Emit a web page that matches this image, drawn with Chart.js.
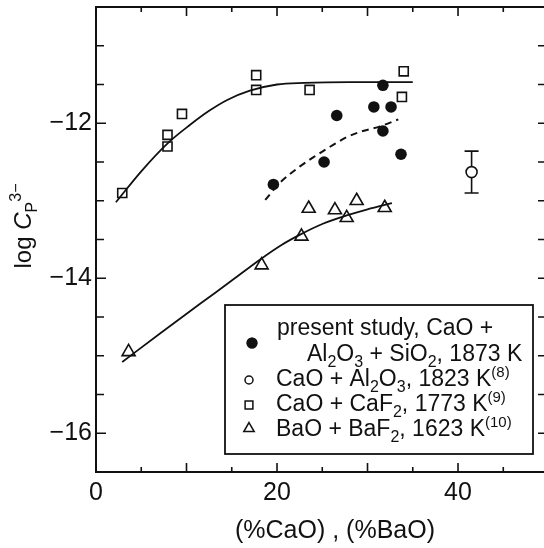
<!DOCTYPE html>
<html><head><meta charset="utf-8">
<script src="https://cdn.jsdelivr.net/npm/chart.js@4"></script>
<style>html,body{margin:0;padding:0;background:#fff;overflow:hidden;width:544px;height:548px}canvas{display:block}</style>
</head><body><canvas id="c" width="544" height="548" style="width:544px;height:548px"></canvas>
<script>
// ---- data ----
const xFilled = [19.6, 25.2, 26.6, 30.7, 32.6, 31.7, 31.7, 33.7];
const yFilled = [-12.79, -12.50, -11.90, -11.79, -11.79, -11.51, -12.10, -12.40];
const xOpen = [41.5];
const yOpen = [-12.63];
const yOpenErrLow = [-12.90];
const yOpenErrHigh = [-12.36];
const xSquare = [2.9, 7.9, 7.9, 9.5, 17.7, 17.7, 23.6, 34.0, 33.8];
const ySquare = [-12.90, -12.30, -12.15, -11.88, -11.38, -11.57, -11.57, -11.33, -11.66];
const xTri = [3.6, 18.3, 22.7, 23.5, 26.4, 27.7, 28.8, 31.9];
const yTri = [-14.95, -13.83, -13.46, -13.10, -13.12, -13.22, -13.00, -13.09];
const xFitSquare = [2.2, 5, 8, 10.4, 12.5, 14.5, 17, 20, 23, 28, 35];
const yFitSquare = [-13.02, -12.62, -12.25, -12.02, -11.84, -11.70, -11.58, -11.50, -11.48, -11.47, -11.47];
const xFitFilled = [18.7, 20.3, 22.5, 24, 26.2, 27.7, 29.2, 31.4, 33.4];
const yFitFilled = [-12.99, -12.77, -12.56, -12.44, -12.28, -12.18, -12.11, -12.04, -11.95];
const xFitTri = [2.9, 7, 11.5, 15, 18.1, 20.5, 22.5, 25, 27.7, 30, 32.7];
const yFitTri = [-15.08, -14.72, -14.33, -14.03, -13.76, -13.57, -13.44, -13.30, -13.19, -13.11, -13.03];
const xTickLabels = [0, 20, 40];
const yTickLabels = [-16, -14, -12];
const xMajorTicks = [0, 10, 20, 30, 40];
const xMinorTicks = [5, 15, 25, 35, 45];
const yMinorTicks = [-16, -15.5, -15, -14.5, -14, -13.5, -13, -12.5, -12, -11.5, -11];
const legendLines = [
  [['present study, CaO +','n']],
  [['Al','n'],['2','sub'],['O','n'],['3','sub'],[' + SiO','n'],['2','sub'],[', 1873 K','n']],
  [['CaO + Al','n'],['2','sub'],['O','n'],['3','sub'],[', 1823 K','n'],['(8)','sup']],
  [['CaO + CaF','n'],['2','sub'],[', 1773 K','n'],['(9)','sup']],
  [['BaO + BaF','n'],['2','sub'],[', 1623 K','n'],['(10)','sup']]
];
const xTitle = '(%CaO) , (%BaO)';
const yTitle = [['log ','n'],['C','i'],['P','sub'],['3\u2212','sup']];

const ink = '#111';
const FONT = '"Liberation Sans", Arial, Helvetica, sans-serif';
const pts = (xs, ys) => xs.map((x, i) => ({x, y: ys[i]}));

function segFont(kind, fs) {
  if (kind === 'sub') return {f: `${Math.round(fs*0.68)}px ${FONT}`, dy: fs*0.25};
  if (kind === 'sup') return {f: `${Math.round(fs*0.66)}px ${FONT}`, dy: -fs*0.42};
  if (kind === 'i') return {f: `italic ${fs}px ${FONT}`, dy: 0};
  return {f: `${fs}px ${FONT}`, dy: 0};
}
function richWidth(ctx, segs, fs) {
  let w = 0;
  for (const [t, k] of segs) { ctx.font = segFont(k, fs).f; w += ctx.measureText(t).width; }
  return w;
}
function richDraw(ctx, x, y, segs, fs) {
  ctx.textBaseline = 'alphabetic'; ctx.textAlign = 'left';
  for (const [t, k] of segs) {
    const s = segFont(k, fs); ctx.font = s.f;
    ctx.fillText(t, x, y + s.dy);
    x += ctx.measureText(t).width;
  }
}
function noPad(s) { s.paddingTop = 0; s.paddingBottom = 0; s.paddingLeft = 0; s.paddingRight = 0; }

const decor = {
  id: 'decor',
  afterDatasetsDraw(chart) {
    const ctx = chart.ctx, xs = chart.scales.x, ys = chart.scales.y;
    const {left, right, top, bottom} = chart.chartArea;
    ctx.save();
    ctx.strokeStyle = ink; ctx.fillStyle = ink; ctx.lineWidth = 1.6;
    // error bar
    xOpen.forEach((v, i) => {
      const px = xs.getPixelForValue(v);
      const p1 = ys.getPixelForValue(yOpenErrHigh[i]), p2 = ys.getPixelForValue(yOpenErrLow[i]);
      const pc = ys.getPixelForValue(yOpen[i]);
      ctx.beginPath();
      ctx.moveTo(px, p1); ctx.lineTo(px, pc - 5);
      ctx.moveTo(px, pc + 5); ctx.lineTo(px, p2);
      ctx.moveTo(px - 7, p1); ctx.lineTo(px + 7, p1);
      ctx.moveTo(px - 7, p2); ctx.lineTo(px + 7, p2);
      ctx.stroke();
    });
    // frame (right edge lies at the window border)
    ctx.lineWidth = 2;
    ctx.beginPath();
    ctx.moveTo(right + 2, top); ctx.lineTo(left, top); ctx.lineTo(left, bottom); ctx.lineTo(right + 2, bottom);
    ctx.stroke();
    ctx.lineWidth = 1.6;
    ctx.beginPath();
    xMajorTicks.concat(xMinorTicks).forEach(v => {
      const L = xMajorTicks.includes(v) ? 9 : 5;
      const px = xs.getPixelForValue(v);
      ctx.moveTo(px, bottom); ctx.lineTo(px, bottom - L);
      ctx.moveTo(px, top); ctx.lineTo(px, top + L);
    });
    yMinorTicks.forEach(v => {
      const L = yTickLabels.includes(v) ? 10 : 8;
      const py = ys.getPixelForValue(v);
      ctx.moveTo(left, py); ctx.lineTo(left + L, py);
      ctx.moveTo(right, py); ctx.lineTo(right - 6, py);
    });
    ctx.stroke();
    // legend
    const bx = 225, by = 305, bw = 308, bh = 149;
    ctx.fillStyle = '#fff'; ctx.fillRect(bx, by, bw, bh);
    ctx.lineWidth = 1.8; ctx.strokeRect(bx, by, bw, bh);
    ctx.fillStyle = ink;
    const fs = 23;
    const lineY = [327, 353, 378, 403, 428];
    const lineX = [277, 307, 276, 276, 276];
    legendLines.forEach((segs, i) => richDraw(ctx, lineX[i], lineY[i] + fs*0.36, segs, fs));
    ctx.lineWidth = 1.5;
    Chart.helpers.drawPoint(ctx, {pointStyle: 'circle', radius: 5.5, borderWidth: 0}, 252, 343); ctx.fill();
    ctx.fillStyle = '#fff';
    Chart.helpers.drawPoint(ctx, {pointStyle: 'circle', radius: 4, borderWidth: 1.5}, 249, 380);
    Chart.helpers.drawPoint(ctx, {pointStyle: 'rect', radius: 5.5, borderWidth: 1.5}, 249, 405);
    Chart.helpers.drawPoint(ctx, {pointStyle: 'triangle', radius: 6, borderWidth: 1.5}, 249, 428.5);
    ctx.fillStyle = ink;
    // x title
    ctx.font = `25px ${FONT}`; ctx.textAlign = 'center'; ctx.textBaseline = 'middle';
    ctx.fillText(xTitle, 335, 531);
    // y title
    ctx.translate(31, 226); ctx.rotate(-Math.PI / 2);
    const w = richWidth(ctx, yTitle, 24);
    richDraw(ctx, -w / 2, 0, yTitle, 24);
    ctx.restore();
  }
};

new Chart(document.getElementById('c'), {
  type: 'scatter',
  data: {
    datasets: [
      {data: pts(xFitSquare, yFitSquare), showLine: true, pointRadius: 0, borderColor: ink, borderWidth: 1.8, cubicInterpolationMode: 'monotone', order: 5},
      {data: pts(xFitFilled, yFitFilled), showLine: true, pointRadius: 0, borderColor: ink, borderWidth: 2, borderDash: [7, 5], cubicInterpolationMode: 'monotone', order: 5},
      {data: pts(xFitTri, yFitTri), showLine: true, pointRadius: 0, borderColor: ink, borderWidth: 1.8, cubicInterpolationMode: 'monotone', order: 5},
      {data: pts(xFilled, yFilled), pointStyle: 'circle', pointRadius: 5.8, backgroundColor: ink, borderColor: ink, borderWidth: 0, order: 1},
      {data: pts(xOpen, yOpen), pointStyle: 'circle', pointRadius: 5.5, backgroundColor: '#fff', borderColor: ink, borderWidth: 1.6, order: 1},
      {data: pts(xSquare, ySquare), pointStyle: 'rect', pointRadius: 6.4, backgroundColor: 'rgba(0,0,0,0)', borderColor: ink, borderWidth: 1.6, order: 1},
      {data: pts(xTri, yTri), pointStyle: 'triangle', pointRadius: 7.5, backgroundColor: 'rgba(0,0,0,0)', borderColor: ink, borderWidth: 1.6, order: 1}
    ]
  },
  options: {
    responsive: false, animation: false, devicePixelRatio: 1,
    layout: {autoPadding: false, padding: {top: 7, right: 0, left: 0, bottom: 0}},
    plugins: {legend: {display: false}, tooltip: {enabled: false}},
    scales: {
      x: {
        type: 'linear', min: 0, max: 49.5,
        grid: {display: false, drawTicks: false}, border: {display: false},
        afterFit: s => { s.height = 76; noPad(s); },
        afterBuildTicks: s => { s.ticks = xTickLabels.map(v => ({value: v})); },
        ticks: {color: ink, font: {family: FONT, size: 25}, padding: 6, maxRotation: 0, autoSkip: false}
      },
      y: {
        type: 'linear', min: -16.5, max: -10.5,
        grid: {display: false, drawTicks: false}, border: {display: false},
        afterFit: s => { s.width = 96; noPad(s); },
        afterBuildTicks: s => { s.ticks = yTickLabels.map(v => ({value: v})); },
        ticks: {color: ink, font: {family: FONT, size: 25}, padding: 4, autoSkip: false,
          callback: v => (v < 0 ? '\u2212' : '') + Math.abs(v)}
      }
    }
  },
  plugins: [decor]
});
</script>
</body></html>
